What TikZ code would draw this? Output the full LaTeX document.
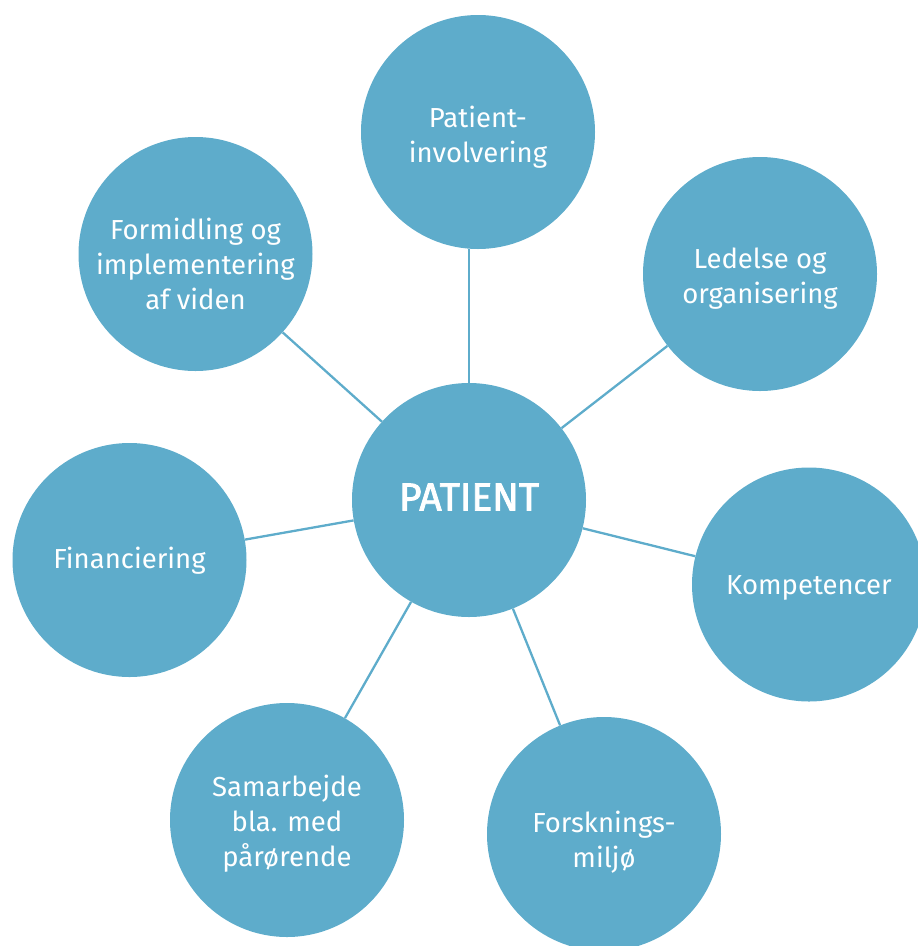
\documentclass[tikz,border=0pt]{standalone}
\usepackage{fontspec}
\setmainfont{Fira Sans}
\newfontfamily\semib[FakeBold=2.2]{Fira Sans}
\definecolor{bub}{RGB}{94,172,203}
\tikzset{
  bubble/.style={circle, fill=bub, draw=none, minimum size=234pt, inner sep=0pt},
  lbl/.style={text=white, align=center, inner sep=0pt, font=\fontsize{27.5}{35}\selectfont},
  link/.style={draw=bub, line width=2.3pt}
}
\begin{document}
\begin{tikzpicture}[x=1pt,y=-1pt]
\useasboundingbox (0,0) rectangle (918,946);
\node[bubble, label={[lbl, yshift=3pt, font=\semib\fontsize{39}{42}\selectfont]center:PATIENT}] (c) at (469,500) {};
\node[bubble, label={[lbl, yshift=-5pt]center:{Patient-\\involvering}}] (pi) at (478,132) {};
\node[bubble, label={[lbl, yshift=-5pt]center:{Ledelse og\\organisering}}] (le) at (760,274) {};
\node[bubble, label={[lbl, yshift=-3pt]center:Kompetencer}] (ko) at (809,584.5) {};
\node[bubble, label={[lbl, yshift=-8pt]center:{Forsknings-\\miljø}}] (fo) at (604,834) {};
\node[bubble, label={[lbl, yshift=-4pt]center:{Samarbejde\\bla. med\\pårørende}}] (sa) at (287,820) {};
\node[bubble, label={[lbl, yshift=-1pt]center:Financiering}] (fi) at (129.5,560) {};
\node[bubble, label={[lbl, yshift=-10pt]center:{Formidling og\\implementering\\af viden}}] (fm) at (195.5,254) {};
\draw[link] (c.north) -- (c.north |- pi.south);
\draw[link] (c) -- (le);
\draw[link] (c) -- (ko);
\draw[link] (c) -- (fo);
\draw[link] (c) -- (sa);
\draw[link] (c) -- (fi);
\draw[link] (c) -- (fm);
\end{tikzpicture}
\end{document}
